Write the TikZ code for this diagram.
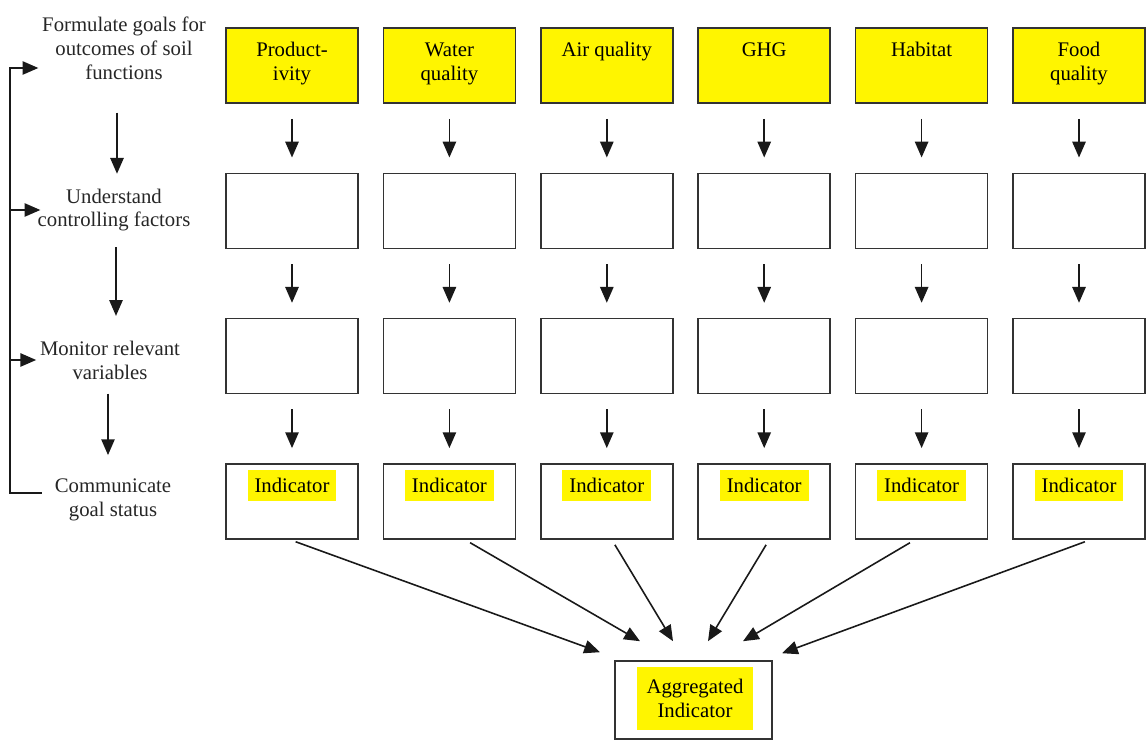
\documentclass[tikz,border=0pt]{standalone}
\usepackage{fontspec}
\setmainfont{Liberation Serif}
\usetikzlibrary{arrows.meta}
\definecolor{marker}{RGB}{255,245,0}
\tikzstyle{cell} = [rectangle, minimum width=2.64cm, minimum height=1.5cm, draw=black!80, line width=0.9pt]
\tikzstyle{goalcell} = [cell, fill=marker]
\tikzstyle{celltext} = [anchor=north, align=center, inner sep=0pt, yshift=-0.3cm]
\tikzstyle{hltext} = [anchor=north, fill=marker, inner xsep=0.14cm, inner ysep=0.16cm, yshift=-0.14cm]
\tikzstyle{steptext} = [align=center, inner sep=2pt, text=black!85]
\tikzstyle{arrow} = [line width=0.9pt, black!90, -{Triangle[width=7.6pt,length=9pt]}]
\tikzstyle{down} = [arrow, shorten <=0.3cm, shorten >=0.3cm]

\begin{document}
\begin{tikzpicture}[node distance=3.148cm, every node/.style={font=\fontsize{11.8}{13.6}\selectfont}]
                \useasboundingbox (0,0) rectangle (22.96,-14.82);
                % goals per soil function
                \node (prod) [goalcell] at (5.84,-1.31) {};
                \node (water) [goalcell, right of=prod] {};
                \node (air) [goalcell, right of=water] {};
                \node (ghg) [goalcell, right of=air] {};
                \node (hab) [goalcell, right of=ghg] {};
                \node (food) [goalcell, right of=hab] {};
                \node (prodtxt) [celltext] at (prod.north) {Product-\\ivity};
                \node (watertxt) [celltext] at (water.north) {Water\\quality};
                \node (airtxt) [celltext] at (air.north) {Air quality};
                \node (ghgtxt) [celltext] at (ghg.north) {GHG};
                \node (habtxt) [celltext] at (hab.north) {Habitat};
                \node (foodtxt) [celltext] at (food.north) {Food\\quality};

                % controlling factors
                \node (prodctl) [cell, below of=prod, yshift=0.242cm] {};
                \node (waterctl) [cell, below of=water, yshift=0.242cm] {};
                \node (airctl) [cell, below of=air, yshift=0.242cm] {};
                \node (ghgctl) [cell, below of=ghg, yshift=0.242cm] {};
                \node (habctl) [cell, below of=hab, yshift=0.242cm] {};
                \node (foodctl) [cell, below of=food, yshift=0.242cm] {};

                % monitored variables
                \node (prodmon) [cell, below of=prodctl, yshift=0.242cm] {};
                \node (watermon) [cell, below of=waterctl, yshift=0.242cm] {};
                \node (airmon) [cell, below of=airctl, yshift=0.242cm] {};
                \node (ghgmon) [cell, below of=ghgctl, yshift=0.242cm] {};
                \node (habmon) [cell, below of=habctl, yshift=0.242cm] {};
                \node (foodmon) [cell, below of=foodctl, yshift=0.242cm] {};

                % indicators
                \node (prodind) [cell, below of=prodmon, yshift=0.242cm] {};
                \node (waterind) [cell, below of=watermon, yshift=0.242cm] {};
                \node (airind) [cell, below of=airmon, yshift=0.242cm] {};
                \node (ghgind) [cell, below of=ghgmon, yshift=0.242cm] {};
                \node (habind) [cell, below of=habmon, yshift=0.242cm] {};
                \node (foodind) [cell, below of=foodmon, yshift=0.242cm] {};
                \node (prodindtxt) [hltext] at (prodind.north) {Indicator};
                \node (waterindtxt) [hltext] at (waterind.north) {Indicator};
                \node (airindtxt) [hltext] at (airind.north) {Indicator};
                \node (ghgindtxt) [hltext] at (ghgind.north) {Indicator};
                \node (habindtxt) [hltext] at (habind.north) {Indicator};
                \node (foodindtxt) [hltext] at (foodind.north) {Indicator};

                \node (agg) [cell, minimum width=3.14cm, minimum height=1.56cm] at (13.87,-14.0) {};
                \node (aggtxt) [fill=marker, align=center, minimum width=2.32cm, minimum height=1.26cm, inner sep=0pt] at ([xshift=0.03cm, yshift=0.03cm]agg.center) {Aggregated\\Indicator};

                % steps on the left
                \node (form) [steptext] at (2.48,-0.96) {Formulate goals for\\outcomes of soil\\functions};
                \node (under) [steptext] at (2.28,-4.2) {Understand\\controlling factors};
                \node (monitor) [steptext] at (2.2,-7.2) {Monitor relevant\\variables};
                \node (comm) [steptext] at (2.26,-10.0) {Communicate\\goal status};

                \draw[arrow, shorten <=0.59cm, shorten >=0.22cm] ([xshift=-0.14cm]form.south) -- ([xshift=-0.14cm]form.south |- under.north);
                \draw[arrow, shorten <=0.24cm, shorten >=0.42cm] ([xshift=0.04cm]under.south) -- ([xshift=0.04cm]under.south |- monitor.north);
                \draw[arrow, shorten <=0.21cm, shorten >=0.4cm] ([xshift=-0.04cm]monitor.south) -- ([xshift=-0.04cm]monitor.south |- comm.north);

                % feedback loop
                \coordinate (bartop) at (0.2,-1.36);
                \draw[arrow] ([xshift=-0.18cm, yshift=0.14cm]comm.west) -| (bartop) -- (bartop -| form.west);
                \draw[arrow] (bartop |- under.west) -- ([xshift=0.13cm]under.west);
                \draw[arrow] (bartop |- monitor.west) -- (monitor.west);

                \draw[down] (prod) -- (prodctl);
                \draw[down] (water) -- (waterctl);
                \draw[down] (air) -- (airctl);
                \draw[down] (ghg) -- (ghgctl);
                \draw[down] (hab) -- (habctl);
                \draw[down] (food) -- (foodctl);
                \draw[down] (prodctl) -- (prodmon);
                \draw[down] (waterctl) -- (watermon);
                \draw[down] (airctl) -- (airmon);
                \draw[down] (ghgctl) -- (ghgmon);
                \draw[down] (habctl) -- (habmon);
                \draw[down] (foodctl) -- (foodmon);
                \draw[down] (prodmon) -- (prodind);
                \draw[down] (watermon) -- (waterind);
                \draw[down] (airmon) -- (airind);
                \draw[down] (ghgmon) -- (ghgind);
                \draw[down] (habmon) -- (habind);
                \draw[down] (foodmon) -- (foodind);

                % aggregation
                \coordinate (tip1) at ([xshift=-1.87cm, yshift=0.16cm]agg.north);
                \coordinate (tip2) at ([xshift=-1.07cm, yshift=0.38cm]agg.north);
                \coordinate (tip3) at ([xshift=-0.41cm, yshift=0.38cm]agg.north);
                \coordinate (tip4) at ([xshift=0.29cm, yshift=0.38cm]agg.north);
                \coordinate (tip5) at ([xshift=0.99cm, yshift=0.38cm]agg.north);
                \coordinate (tip6) at ([xshift=1.77cm, yshift=0.14cm]agg.north);
                \draw[arrow, shorten <=0.12cm] ([xshift=-0.04cm]prodind.south) -- (tip1);
                \draw[arrow, shorten <=0.12cm] ([xshift=0.31cm]waterind.south) -- (tip2);
                \draw[arrow, shorten <=0.12cm] ([xshift=0.1cm]airind.south) -- (tip3);
                \draw[arrow, shorten <=0.12cm] ([xshift=0.1cm]ghgind.south) -- (tip4);
                \draw[arrow, shorten <=0.12cm] ([xshift=-0.13cm]habind.south) -- (tip5);
                \draw[arrow, shorten <=0.12cm] ([xshift=0.23cm]foodind.south) -- (tip6);
            \end{tikzpicture}
\end{document}
